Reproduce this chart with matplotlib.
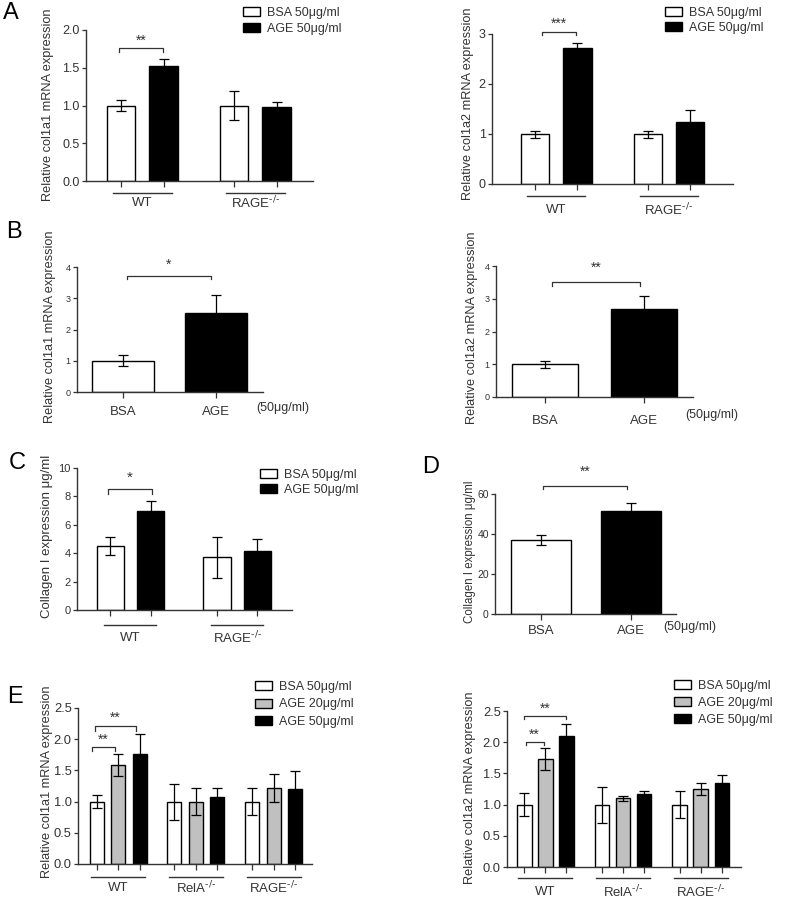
import matplotlib
matplotlib.use("Agg")
import matplotlib.pyplot as plt

plt.rcParams['font.family'] = ['Liberation Sans', 'DejaVu Sans']
plt.rcParams['mathtext.default'] = 'regular'

W, H = 787, 901
INK = '#333333'
GRAY = '#c0c0c0'

# ---- data ----
groups2 = ['WT', 'RAGE$^{\\text{-/-}}$']
groups3 = ['WT', 'RelA$^{\\text{-/-}}$', 'RAGE$^{\\text{-/-}}$']
two_labels = ['BSA', 'AGE']

a1_bsa = [1.0, 1.0]
a1_bsa_err = [0.07, 0.19]
a1_age = [1.52, 0.98]
a1_age_err = [0.10, 0.07]

a2_bsa = [1.0, 1.0]
a2_bsa_err = [0.07, 0.07]
a2_age = [2.72, 1.25]
a2_age_err = [0.10, 0.23]

b1_vals = [1.0, 2.53]
b1_err = [0.18, 0.58]
b2_vals = [1.0, 2.70]
b2_err = [0.11, 0.37]

c_bsa = [4.5, 3.7]
c_bsa_err = [0.62, 1.45]
c_age = [6.95, 4.15]
c_age_err = [0.75, 0.82]

d_vals = [37.0, 51.7]
d_err = [2.7, 3.8]

e1_bsa = [1.0, 1.0, 1.0]
e1_bsa_err = [0.11, 0.29, 0.21]
e1_age20 = [1.59, 1.0, 1.22]
e1_age20_err = [0.18, 0.22, 0.22]
e1_age50 = [1.77, 1.08, 1.20]
e1_age50_err = [0.31, 0.13, 0.29]

e2_bsa = [1.0, 1.0, 1.0]
e2_bsa_err = [0.19, 0.29, 0.21]
e2_age20 = [1.73, 1.10, 1.25]
e2_age20_err = [0.17, 0.04, 0.10]
e2_age50 = [2.10, 1.17, 1.35]
e2_age50_err = [0.19, 0.05, 0.12]

fig = plt.figure(figsize=(W / 100, H / 100), dpi=100)


def add_ax(l, t, r, b):
    return fig.add_axes([l / W, 1 - b / H, (r - l) / W, (b - t) / H])


def below(ax, px):
    return -px / (ax.get_position().height * H)


def style(ax, ylim, yticks, fmt, size, xlim):
    for s in ['top', 'right']:
        ax.spines[s].set_visible(False)
    for s in ['left', 'bottom']:
        ax.spines[s].set_linewidth(1.0)
        ax.spines[s].set_color(INK)
    ax.set_xlim(xlim)
    ax.set_ylim(ylim)
    ax.set_yticks(yticks)
    ax.set_yticklabels([fmt.format(v) for v in yticks])
    ax.tick_params(axis='y', length=3, width=0.9, labelsize=size, pad=1.5, colors=INK)
    ax.tick_params(axis='x', length=4, width=0.9, colors=INK)


def bars(ax, pos, vals, err, color, width, label=None):
    return ax.bar(pos, vals, width, color=color, edgecolor='black', linewidth=1.0,
                  yerr=err, label=label,
                  error_kw=dict(ecolor='black', elinewidth=0.9, capsize=3.8, capthick=0.9))


def groups(ax, centers, names, half, line_px, text_px, size=9.5):
    for g, name in zip(centers, names):
        ax.plot([g - half, g + half], [below(ax, line_px)] * 2, color=INK, lw=1.0,
                transform=ax.get_xaxis_transform(), clip_on=False)
        ax.text(g, below(ax, text_px), name, ha='center', va='center', fontsize=size,
                color=INK, transform=ax.get_xaxis_transform())


def bracket(ax, x0, x1, y, leg, stars, ty, size=10):
    ax.plot([x0, x0, x1, x1], [y - leg, y, y, y - leg], color=INK, lw=0.9, clip_on=False)
    ax.text((x0 + x1) / 2, ty, stars, ha='center', va='center', fontsize=size, color=INK)


def legend(ax, x, y, size, spacing):
    ax.legend(loc='upper left', bbox_to_anchor=(x / W, 1 - y / H), bbox_transform=fig.transFigure,
              frameon=False, fontsize=size, handlelength=1.35, handleheight=0.7,
              handletextpad=0.55, labelspacing=spacing, borderpad=0, borderaxespad=0,
              labelcolor=INK)


def ylabel(x, y, text, size):
    fig.text(x / W, 1 - y / H, text, rotation=90, ha='center', va='center', fontsize=size, color=INK)


def letter(x, y, text):
    fig.text(x / W, 1 - y / H, text, ha='center', va='center', fontsize=17, color='black')


# ---- A left ----
d, w = 0.188, 0.25
ax = add_ax(86, 30, 313, 181)
pos = [0, 1]
bars(ax, [p - d for p in pos], a1_bsa, a1_bsa_err, 'white', w, 'BSA 50\u03bcg/ml')
bars(ax, [p + d for p in pos], a1_age, a1_age_err, 'black', w, 'AGE 50\u03bcg/ml')
style(ax, (0, 2.0), [0, 0.5, 1.0, 1.5, 2.0], '{:.1f}', 9, (-0.498, 1.511))
ax.set_xticks([p + s for p in pos for s in (-d, d)])
ax.set_xticklabels([])
groups(ax, pos, groups2, 0.26, 12, 22)
bracket(ax, -0.206, 0.184, 1.76, 0.05, '**', 1.86)
legend(ax, 243, 7, 9, 0.3)
ylabel(48, 105, 'Relative col1a1 mRNA expression', 9.2)
letter(11, 13, 'A')

# ---- A right ----
ax = add_ax(492, 34, 733, 184)
bars(ax, [p - d for p in pos], a2_bsa, a2_bsa_err, 'white', w, 'BSA 50\u03bcg/ml')
bars(ax, [p + d for p in pos], a2_age, a2_age_err, 'black', w, 'AGE 50\u03bcg/ml')
style(ax, (0, 3), [0, 1, 2, 3], '{:.0f}', 9, (-0.570, 1.568))
ax.set_xticks([p + s for p in pos for s in (-d, d)])
ax.set_xticklabels([])
groups(ax, pos, groups2, 0.257, 12, 26)
bracket(ax, -0.126, 0.175, 3.04, 0.06, '***', 3.2)
legend(ax, 665, 7, 9, 0.25)
ylabel(468, 104, 'Relative col1a2 mRNA expression', 9.2)

# ---- B left ----
ax = add_ax(77, 267, 263, 392)
bars(ax, pos, b1_vals, b1_err, ['white', 'black'], 0.667)
style(ax, (0, 4), [0, 1, 2, 3, 4], '{:.0f}', 6.5, (-0.495, 1.505))
ax.set_xticks(pos)
ax.set_xticklabels(two_labels, fontsize=9.5)
ax.tick_params(axis='x', pad=6)
bracket(ax, 0.04, 0.946, 3.71, 0.09, '*', 4.06)
fig.text(283 / W, 1 - 408 / H, '(50\u03bcg/ml)', ha='center', va='center', fontsize=9, color=INK)
ylabel(50, 327, 'Relative col1a1 mRNA expression', 9.2)
letter(14, 232, 'B')

# ---- B right ----
ax = add_ax(496, 266, 693, 397)
bars(ax, pos, b2_vals, b2_err, ['white', 'black'], 0.667)
style(ax, (0, 4), [0, 1, 2, 3, 4], '{:.0f}', 6.5, (-0.495, 1.495))
ax.set_xticks(pos)
ax.set_xticklabels(two_labels, fontsize=9.5)
ax.tick_params(axis='x', pad=9)
bracket(ax, 0.07, 0.96, 3.51, 0.12, '**', 3.94)
fig.text(712 / W, 1 - 415 / H, '(50\u03bcg/ml)', ha='center', va='center', fontsize=9, color=INK)
ylabel(472, 328, 'Relative col1a2 mRNA expression', 9.2)

# ---- C ----
ax = add_ax(77, 468, 292, 610)
bars(ax, [p - d for p in pos], c_bsa, c_bsa_err, 'white', 0.254, 'BSA 50\u03bcg/ml')
bars(ax, [p + d for p in pos], c_age, c_age_err, 'black', 0.254, 'AGE 50\u03bcg/ml')
style(ax, (0, 10), [0, 2, 4, 6, 8, 10], '{:.0f}', 8, (-0.502, 1.516))
ax.set_xticks([p + s for p in pos for s in (-d, d)])
ax.set_xticklabels([])
groups(ax, pos, groups2, 0.244, 15, 28)
bracket(ax, -0.21, 0.2, 8.52, 0.35, '*', 9.3, 11)
legend(ax, 260, 469, 9, 0.22)
ylabel(47, 536, 'Collagen I expression \u03bcg/ml', 9.5)
letter(17, 463, 'C')

# ---- D ----
ax = add_ax(495, 494, 676, 614)
bars(ax, pos, d_vals, d_err, ['white', 'black'], 0.667)
style(ax, (0, 60), [0, 20, 40, 60], '{:.0f}', 7.5, (-0.511, 1.5))
ax.set_xticks(pos)
ax.set_xticklabels(two_labels, fontsize=9.5)
ax.tick_params(axis='x', pad=4)
bracket(ax, 0.02, 0.96, 64, 1.5, '**', 71)
fig.text(690 / W, 1 - 627 / H, '(50\u03bcg/ml)', ha='center', va='center', fontsize=9, color=INK)
ylabel(470, 552, 'Collagen I expression \u03bcg/ml', 8.3)
letter(431, 467, 'D')

# ---- E left ----
pos3 = [0, 1, 2]
de, we = 0.276, 0.18
ax = add_ax(78, 708, 312, 864)
bars(ax, [p - de for p in pos3], e1_bsa, e1_bsa_err, 'white', we, 'BSA 50\u03bcg/ml')
bars(ax, pos3, e1_age20, e1_age20_err, GRAY, we, 'AGE 20\u03bcg/ml')
bars(ax, [p + de for p in pos3], e1_age50, e1_age50_err, 'black', we, 'AGE 50\u03bcg/ml')
style(ax, (0, 2.5), [0, 0.5, 1.0, 1.5, 2.0, 2.5], '{:.1f}', 9.3, (-0.514, 2.49))
ax.set_xticks([p + s for p in pos3 for s in (-de, 0, de)])
ax.set_xticklabels([])
groups(ax, pos3, groups3, 0.35, 13, 24)
bracket(ax, -0.296, 0.23, 2.21, 0.08, '**', 2.35)
bracket(ax, -0.33, -0.04, 1.875, 0.06, '**', 1.99)
legend(ax, 255, 681, 9, 0.44)
ylabel(47, 782, 'Relative col1a1 mRNA expression', 9.2)
letter(15, 697, 'E')

# ---- E right ----
de, we = 0.27, 0.19
ax = add_ax(507, 711, 741, 867)
bars(ax, [p - de for p in pos3], e2_bsa, e2_bsa_err, 'white', we, 'BSA 50\u03bcg/ml')
bars(ax, pos3, e2_age20, e2_age20_err, GRAY, we, 'AGE 20\u03bcg/ml')
bars(ax, [p + de for p in pos3], e2_age50, e2_age50_err, 'black', we, 'AGE 50\u03bcg/ml')
style(ax, (0, 2.5), [0, 0.5, 1.0, 1.5, 2.0, 2.5], '{:.1f}', 9.3, (-0.49, 2.515))
ax.set_xticks([p + s for p in pos3 for s in (-de, 0, de)])
ax.set_xticklabels([])
groups(ax, pos3, groups3, 0.35, 11, 25)
bracket(ax, -0.27, 0.27, 2.42, 0.05, '**', 2.53)
bracket(ax, -0.25, -0.02, 2.0, 0.05, '**', 2.12)
legend(ax, 674, 680, 9, 0.4)
ylabel(470, 788, 'Relative col1a2 mRNA expression', 9.2)

fig.savefig('out.png', dpi=100)
